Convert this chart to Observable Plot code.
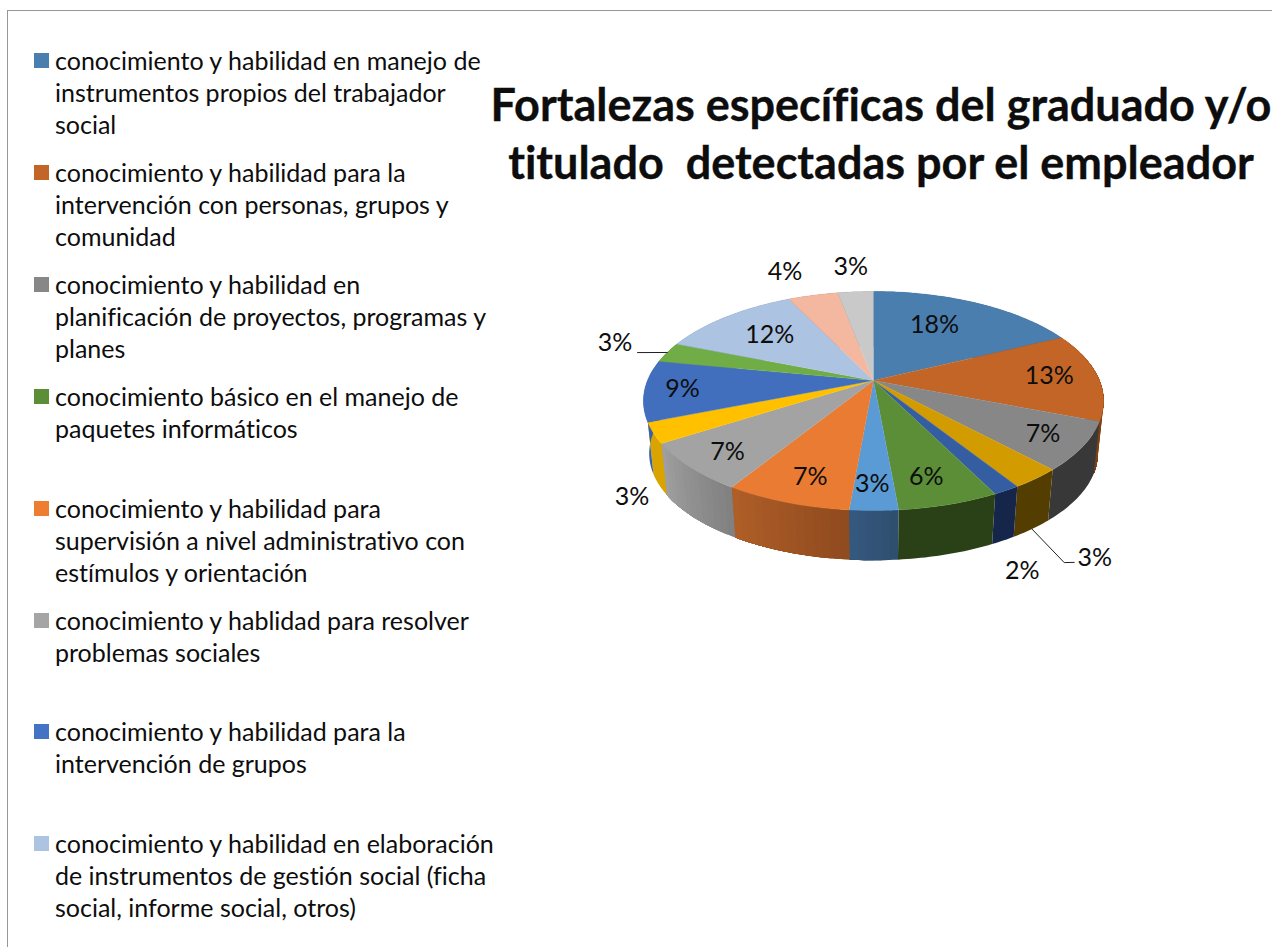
<!DOCTYPE html>
<html><head><meta charset="utf-8">
<script src="https://cdn.jsdelivr.net/npm/d3@7"></script>
<script src="https://cdn.jsdelivr.net/npm/@observablehq/plot@0.6"></script>
<style>
html,body{margin:0;padding:0;background:#fff}
#page{position:relative;width:1272px;height:947px;overflow:hidden;font-family:Lato,sans-serif;color:#0d0d0d;font-variant-ligatures:none}
#frame{position:absolute;left:7px;top:10px;width:1265px;height:937px;border-left:1px solid #979797;border-top:1px solid #979797;box-sizing:border-box}
#title{position:absolute;left:481px;width:800px;top:76px;margin:0;text-align:center;font-weight:700;font-size:45px;line-height:57.5px;white-space:pre;color:#0d0d0d;-webkit-text-stroke:.35px #0d0d0d}
.entry{position:absolute;left:34px}
.sw{position:absolute;left:0;top:9px;width:15px;height:15px}
.tx{position:absolute;left:21px;top:0;font-size:25px;line-height:32px;white-space:pre}
#chart{position:absolute;left:560px;top:240px}
#chart svg{display:block;background:transparent}
</style></head><body>
<div id="page"><div id="frame"></div><h1 id="title"></h1><div id="legend"></div><div id="chart"></div></div>
<script>
// ---- data
const chartTitle = "Fortalezas específicas del graduado y/o\ntitulado  detectadas por el empleador";
const legendLabels = [
 "conocimiento y habilidad en manejo de\ninstrumentos propios del trabajador\nsocial",
 "conocimiento y habilidad para la\nintervención con personas, grupos y\ncomunidad",
 "conocimiento y habilidad en\nplanificación de proyectos, programas y\nplanes",
 "conocimiento básico en el manejo de\npaquetes informáticos",
 "conocimiento y habilidad para\nsupervisión a nivel administrativo con\nestímulos y orientación",
 "conocimiento y hablidad para resolver\nproblemas sociales",
 "conocimiento y habilidad para la\nintervención de grupos",
 "conocimiento y habilidad en elaboración\nde instrumentos de gestión social (ficha\nsocial, informe social, otros)"
];
const legendColors = ["#4a7eae","#c36527","#878787","#5c8e38","#ed7d31","#a5a5a5","#4472c4","#adc3e2"];
// estimated shares read from the wedge edges; the printed labels are these rounded
const slicePercents = [17.8,13.1,7.1,3,1.6,5.96,2.84,7.45,7.15,3,9,3,11.8,4.2,3];
const topColors = ["#4a7eae","#c36527","#878787","#d29c00","#355ea2","#5c8e38","#5b9bd5","#e97c32","#a3a3a3","#ffc000","#416fbe","#70ad47","#adc3e2","#f4b8a1","#c9c9c9"];
const sideFrom = ["#2e5270","#8f4a1e","#383838","#533d00","#16264a","#2a4016","#2e4e6e","#8f4a1e","#808080","#d9a300","#3a60a5","#44692b","#6a7a90","#94705f","#7a7a7a"];
const sideTo   = ["#2e5270","#7d4014","#383838","#533d00","#16264a","#2a4016","#36597f","#b05f28","#a0a0a0","#d9a300","#3a60a5","#44692b","#6a7a90","#94705f","#7a7a7a"];

// ---- label placement, relative to each slice's middle: [radius, turn in degrees]
const labelPlace = [[.65,-4.6],[.786,-1],[.827,0],[1.477,7.5],[1.433,9.4],[.808,1.6],[.831,.4],[.818,-1.5],[.83,-1],[1.274,-19],[.836,0],[1.282,1],[.681,0],[1.363,-2.5],[1.343,0]];
// leader lines: slice, waypoints [radius, turn]; the start sits on the rim (top or base)
const leaders = [
 {slice:3, base:true, way:[[1.451,11.7],[1.465,10.5]]},
 {slice:11, base:false, way:[[1.133,-2]]}
];

// ---- view of the disc
const W=570,H=350,hubPx=[313,140],rxPx=226,ryPx=105.7,persp=.187,baseShrink=.975,baseDrop=53/ryPx;
const rad=d=>d*Math.PI/180;
const proj=(r,deg)=>{const u=r*Math.sin(rad(deg)),v=r*Math.cos(rad(deg)),den=1+persp*v;return [u/den,v/den]};
const projBase=(deg)=>{const [x,y]=proj(1,deg);return [x*baseShrink,y*baseShrink-baseDrop]};

const cum=d3.cumsum(slicePercents),total=cum[cum.length-1];
const slices=slicePercents.map((p,i)=>({i,p,a0:(cum[i]-p)/total*360,a1:cum[i]/total*360,mid:(cum[i]-p/2)/total*360}));

const sideRows=[],topRows=[];
slices.forEach(s=>{
  const mix=d3.interpolateRgb(sideFrom[s.i],sideTo[s.i]);
  const n=sideFrom[s.i]===sideTo[s.i]?1:Math.max(1,Math.ceil((s.a1-s.a0)/2));
  for(let k=0;k<n;k++){
    // each strip runs on to the slice's far edge; the next strip paints over the rest
    const d0=s.a0+(s.a1-s.a0)*k/n,d1=s.a1;
    const c=d3.color(mix((k+.5)/n)).formatHex(),key=s.i+"-"+k;
    const m=Math.max(1,Math.ceil(d1-d0));
    const up=d3.range(m+1).map(q=>d0+(d1-d0)*q/m);
    up.forEach(d=>{const [x,y]=proj(1,d);sideRows.push({key,c,x,y})});
    up.slice().reverse().forEach(d=>{const [x,y]=projBase(d);sideRows.push({key,c,x,y})});
  }
  topRows.push({key:"t"+s.i,c:topColors[s.i],x:0,y:0});
  const m=Math.max(2,Math.ceil(s.a1-s.a0));
  for(let k=0;k<=m;k++){const [x,y]=proj(1,s.a0+(s.a1-s.a0)*k/m);topRows.push({key:"t"+s.i,c:topColors[s.i],x,y});}
});
const labelRows=slices.map(s=>{const [r,t]=labelPlace[s.i];const [x,y]=proj(r,s.mid+t);return {x,y,t:Math.round(s.p)+"%"}});
const leaderRows=[];
leaders.forEach((l,j)=>{
  const s=slices[l.slice];
  const [x0,y0]=l.base?projBase(s.mid):proj(1,s.mid);
  leaderRows.push({j,x:x0,y:y0});
  l.way.forEach(([r,t])=>{const [x,y]=proj(r,s.mid+t);leaderRows.push({j,x,y})});
});

const chart=Plot.plot({
  width:W,height:H,margin:0,
  x:{domain:[-hubPx[0]/rxPx,(W-hubPx[0])/rxPx],range:[0,W],axis:null},
  y:{domain:[hubPx[1]/ryPx,(hubPx[1]-H)/ryPx],range:[0,H],axis:null},
  color:{type:"identity"},
  marks:[
    Plot.line(sideRows,{x:"x",y:"y",z:"key",fill:"c",stroke:"none",curve:"linear"}),
    Plot.line(topRows,{x:"x",y:"y",z:"key",fill:"c",stroke:"c",strokeWidth:.4,curve:"linear"}),
    Plot.line(leaderRows,{x:"x",y:"y",z:"j",stroke:"#222",strokeWidth:1,curve:"linear"}),
    Plot.text(labelRows,{x:"x",y:"y",text:"t",fontSize:25,fontFamily:"Lato, sans-serif",fill:"#0d0d0d"})
  ]
});
document.getElementById("chart").append(chart);
document.getElementById("title").textContent=chartTitle;

const legend=document.getElementById("legend");
legendLabels.forEach((label,i)=>{
  const e=document.createElement("div");e.className="entry";e.style.top=(44+i*111.9)+"px";
  const sw=document.createElement("div");sw.className="sw";sw.style.background=legendColors[i];
  const tx=document.createElement("div");tx.className="tx";tx.textContent=label;
  e.append(sw,tx);legend.append(e);
});
</script></body></html>
